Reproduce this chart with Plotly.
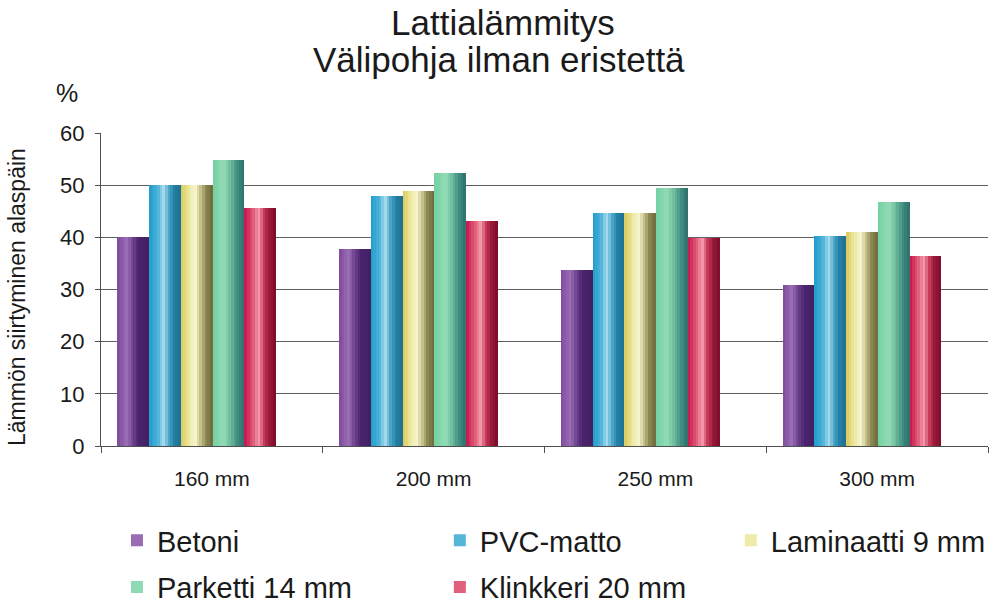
import plotly.graph_objects as go

categories = ["160 mm", "200 mm", "250 mm", "300 mm"]
series_names = ["Betoni", "PVC-matto", "Laminaatti 9 mm", "Parketti 14 mm", "Klinkkeri 20 mm"]
betoni = [40.0, 37.8, 33.8, 30.8]
pvc = [50.0, 48.0, 44.6, 40.3]
laminaatti = [50.0, 48.9, 44.6, 41.0]
parketti = [54.8, 52.4, 49.4, 46.7]
klinkkeri = [45.6, 43.2, 39.9, 36.4]
y_ticks = [0, 10, 20, 30, 40, 50, 60]

series_values = [betoni, pvc, laminaatti, parketti, klinkkeri]
# legend column of each series (columns of the two-row legend)
legend_of_series = ["legend", "legend2", "legend3", "legend", "legend2"]

# cylinder-like gradient stops (position, colour) per series
gradients = [
    [(0, "#7e4a9c"), (0.3, "#9a6db5"), (0.5, "#6c3f8c"), (0.68, "#4a2370"), (1, "#43205f")],
    [(0, "#1d9ccc"), (0.28, "#4fb3d9"), (0.45, "#a9dcee"), (0.62, "#4aa7c8"), (0.8, "#227fa3"), (1, "#1f6f90")],
    [(0, "#d8c85a"), (0.25, "#ece79c"), (0.45, "#f7f5d2"), (0.62, "#c9c38a"), (0.8, "#8a8550"), (1, "#6c6b3d")],
    [(0, "#72d0a2"), (0.35, "#92dcb6"), (0.55, "#6fbf9e"), (0.8, "#3d8a80"), (1, "#2e6f6c")],
    [(0, "#c5124a"), (0.3, "#e2627c"), (0.45, "#f59bae"), (0.62, "#c83c5a"), (0.8, "#96183a"), (1, "#7e0c28")],
]


def hex_to_rgb(h):
    h = h.lstrip("#")
    return tuple(int(h[i:i + 2], 16) for i in (0, 2, 4))


def interp(stops, t):
    for (p0, c0), (p1, c1) in zip(stops[:-1], stops[1:]):
        if p0 <= t <= p1:
            f = (t - p0) / (p1 - p0) if p1 > p0 else 0
            a, b = hex_to_rgb(c0), hex_to_rgb(c1)
            r = [round(a[i] + (b[i] - a[i]) * f) for i in range(3)]
            return "rgb({},{},{})".format(*r)
    return stops[-1][1]


FONT = "Liberation Sans, Arial, sans-serif"
bar_w = 0.1432
start = -0.4266
n_slices = 12
legend_slice = 3

fig = go.Figure()
for s, (name, vals, stops) in enumerate(zip(series_names, series_values, gradients)):
    for k in range(n_slices):
        t = (k + 0.5) / n_slices
        sw = bar_w / n_slices
        fig.add_trace(go.Bar(
            x=categories, y=vals, name=name, legendgroup=name,
            legend=legend_of_series[s],
            showlegend=(k == legend_slice),
            offset=start + s * bar_w + k * sw,
            width=sw + (0.0015 if k < n_slices - 1 else 0),
            marker=dict(color=interp(stops, t), line=dict(width=0)),
            hovertemplate=name + ": %{y}<extra>%{x}</extra>",
        ))

legend_common = dict(
    orientation="v", xanchor="left", yanchor="top", y=-0.22,
    font=dict(size=29, family=FONT, color="#1a1a1a"),
    bgcolor="rgba(0,0,0,0)", traceorder="grouped", tracegroupgap=6,
)

fig.update_layout(
    width=993, height=610,
    margin=dict(l=101, r=5, t=133, b=164, autoexpand=False),
    paper_bgcolor="white", plot_bgcolor="white",
    barmode="overlay",
    font=dict(family=FONT, color="#1a1a1a"),
    title=dict(
        text="Lattialämmitys",
        x=0.5065, xref="container", xanchor="center",
        y=1 - 23 / 610, yref="container", yanchor="middle",
        font=dict(size=35, family=FONT, color="#1a1a1a"),
    ),
    xaxis=dict(
        type="category", range=[-0.5, 3.5],
        showline=True, linecolor="#505050", linewidth=1.2,
        ticks="outside", tickson="boundaries", ticklen=6, tickcolor="#505050",
        tickfont=dict(size=21), ticklabelstandoff=14,
        showgrid=False, fixedrange=True,
    ),
    yaxis=dict(
        range=[0, 60], tickvals=y_ticks,
        showline=True, linecolor="#505050", linewidth=1.2,
        ticks="outside", ticklen=5, tickcolor="#505050",
        tickfont=dict(size=22), ticklabelstandoff=6,
        showgrid=False, zeroline=False, fixedrange=True,
        minor=dict(tickvals=y_ticks[1:-1], showgrid=True, gridcolor="#5e5e5e",
                   gridwidth=1.3, ticks=""),
    ),
    legend=dict(x=0.018, **legend_common),
    legend2=dict(x=0.382, **legend_common),
    legend3=dict(x=0.710, **legend_common),
    annotations=[
        dict(text="Välipohja ilman eristettä", x=0.4487, y=(446 - 59) / 313,
             xref="paper", yref="paper", showarrow=False,
             font=dict(size=35), xanchor="center", yanchor="middle"),
        dict(text="%", x=-0.038, y=1.128, xref="paper", yref="paper",
             showarrow=False, font=dict(size=25), xanchor="center", yanchor="middle"),
        dict(text="Lämmön siirtyminen alaspäin", x=-0.0947, y=0.476,
             xref="paper", yref="paper", textangle=-90, showarrow=False,
             font=dict(size=23), xanchor="center", yanchor="middle"),
    ],
    bargap=0,
)

fig.write_html("out.html", config={"displayModeBar": False},
               post_script="document.body.style.margin='0';")
